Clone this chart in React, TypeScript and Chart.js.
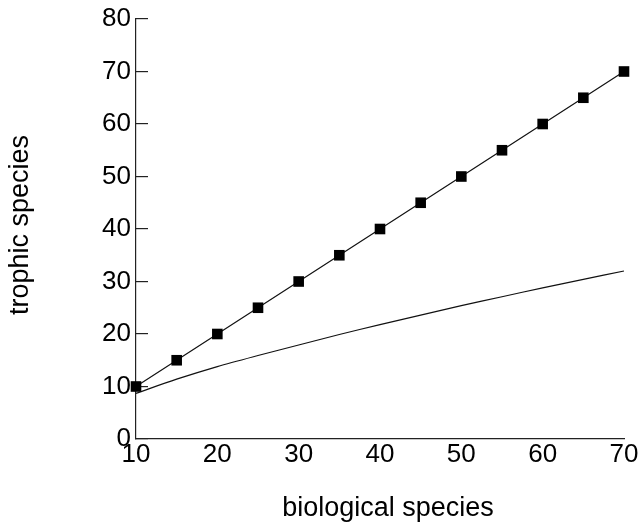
import React, { useEffect, useRef } from "react";
import { Chart, registerables } from "chart.js";

Chart.register(...registerables);

const biologicalSpecies = [10, 15, 20, 25, 30, 35, 40, 45, 50, 55, 60, 65, 70];
const trophicObserved = [10, 15, 20, 25, 30, 35, 40, 45, 50, 55, 60, 65, 70];
const trophicModel = [8.7, 11.4, 13.8, 15.9, 17.9, 19.9, 21.8, 23.6, 25.4, 27.1, 28.8, 30.4, 32.0];

const xTitle = "biological species";
const yTitle = "trophic species";
const xMin = 10, xMax = 70, xStep = 10;
const yMin = 0, yMax = 80, yStep = 10;

const FONT = "'Liberation Sans', Arial, Helvetica, sans-serif";

const axisTitles = {
  id: "axisTitles",
  afterDraw(chart: any) {
    const { ctx } = chart;
    ctx.save();
    ctx.fillStyle = "#000";
    ctx.font = `27px ${FONT}`;
    ctx.textAlign = "center";
    ctx.textBaseline = "alphabetic";
    ctx.fillText(xTitle, 388, 516);
    ctx.translate(28, 225);
    ctx.rotate(-Math.PI / 2);
    ctx.fillText(yTitle, 0, 0);
    ctx.restore();
  },
};

export default function App() {
  const ref = useRef<HTMLCanvasElement | null>(null);

  useEffect(() => {
    if (!ref.current) return;
    const chart = new Chart(ref.current, {
      type: "line",
      data: {
        datasets: [
          {
            data: biologicalSpecies.map((x, i) => ({ x, y: trophicObserved[i] })),
            borderColor: "#111",
            borderWidth: 1.2,
            pointStyle: "rect",
            pointRadius: 7.5,
            pointBackgroundColor: "#000",
            pointBorderWidth: 0,
            tension: 0,
            clip: false,
          },
          {
            data: biologicalSpecies.map((x, i) => ({ x, y: trophicModel[i] })),
            borderColor: "#111",
            borderWidth: 1.2,
            pointRadius: 0,
            tension: 0.3,
            clip: false,
          },
        ],
      },
      plugins: [axisTitles],
      options: {
        responsive: false,
        animation: false,
        layout: { padding: { left: 0, top: 19, right: 16, bottom: 0 } },
        plugins: { legend: { display: false }, tooltip: { enabled: false } },
        scales: {
          x: {
            type: "linear",
            min: xMin,
            max: xMax,
            grid: { display: false, drawTicks: false },
            border: { display: true, color: "#222", width: 1.2 },
            ticks: {
              stepSize: xStep,
              color: "#000",
              padding: 0,
              font: { family: FONT, size: 26 },
              maxRotation: 0,
            },
            afterFit: (s: any) => {
              s.height = 83;
              s.paddingLeft = 0;
              s.paddingRight = 0;
            },
          },
          y: {
            type: "linear",
            min: yMin,
            max: yMax,
            grid: {
              drawOnChartArea: false,
              drawTicks: true,
              tickLength: -12,
              color: "#222",
              lineWidth: 1.2,
            },
            border: { display: true, color: "#222", width: 1.2 },
            ticks: {
              stepSize: yStep,
              color: "#000",
              padding: 17,
              font: { family: FONT, size: 26 },
            },
            afterFit: (s: any) => {
              s.width = 136;
              s.paddingTop = 0;
              s.paddingBottom = 0;
            },
          },
        },
      },
    });
    return () => chart.destroy();
  }, []);

  return (
    <div style={{ position: "absolute", left: 0, top: 0, width: 640, height: 522, background: "#fff" }}>
      <canvas ref={ref} width={640} height={522} style={{ display: "block" }} />
    </div>
  );
}
